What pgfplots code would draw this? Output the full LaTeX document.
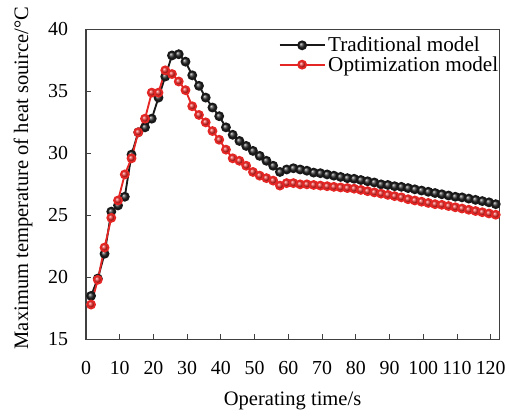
\documentclass[border=0pt]{standalone}
\usepackage{fontspec}
\setmainfont{Liberation Serif}
\usepackage{pgfplots}
\pgfplotsset{compat=1.18}
\definecolor{tblack}{RGB}{25,25,25}
\definecolor{tred}{RGB}{228,38,36}

\pgfplotstableread{
t    v
1.5  18.5
3.5  19.9
5.5  21.9
7.5  25.3
9.5  25.8
11.5 26.5
13.5 29.9
15.5 31.7
17.5 32.1
19.5 32.8
21.5 34.5
23.5 36.2
25.5 37.9
27.5 38.0
29.5 37.4
31.5 36.3
33.5 35.45
35.5 34.5
37.5 33.7
39.5 33.0
41.5 32.1
43.5 31.5
45.5 31.0
47.5 30.6
49.5 30.2
51.5 29.8
53.5 29.4
55.5 29.0
57.5 28.5
59.5 28.7
61.5 28.8
63.5 28.7
65.5 28.6
67.5 28.45
69.5 28.4
71.5 28.3
73.5 28.2
75.5 28.1
77.5 28.0
79.5 27.95
81.5 27.85
83.5 27.75
85.5 27.65
87.5 27.5
89.5 27.45
91.5 27.35
93.5 27.3
95.5 27.2
97.5 27.1
99.5 27.0
101.5 26.9
103.5 26.8
105.5 26.7
107.5 26.6
109.5 26.5
111.5 26.45
113.5 26.35
115.5 26.25
117.5 26.15
119.5 26.05
121.5 25.9
}\traditional

\pgfplotstableread{
t    v
1.5  17.8
3.5  19.8
5.5  22.4
7.5  24.8
9.5  26.2
11.5 28.3
13.5 29.6
15.5 31.7
17.5 32.8
19.5 34.9
21.5 34.9
23.5 36.7
25.5 36.4
27.5 35.8
29.5 35.1
31.5 33.8
33.5 33.1
35.5 32.5
37.5 31.8
39.5 31.1
41.5 30.3
43.5 29.6
45.5 29.4
47.5 29.0
49.5 28.5
51.5 28.2
53.5 28.0
55.5 27.8
57.5 27.4
59.5 27.6
61.5 27.6
63.5 27.5
65.5 27.5
67.5 27.45
69.5 27.4
71.5 27.35
73.5 27.3
75.5 27.25
77.5 27.2
79.5 27.15
81.5 27.05
83.5 26.95
85.5 26.85
87.5 26.75
89.5 26.65
91.5 26.55
93.5 26.45
95.5 26.3
97.5 26.2
99.5 26.1
101.5 26.0
103.5 25.9
105.5 25.85
107.5 25.75
109.5 25.65
111.5 25.55
113.5 25.45
115.5 25.35
117.5 25.25
119.5 25.15
121.5 25.05
}\optimized

\begin{document}
\begin{tikzpicture}
  \begin{axis}[
    scale only axis,
    width=312pt, height=234pt,
    xmin=0, xmax=122.5, ymin=15, ymax=40,
    xtick={0,10,...,120}, ytick={15,20,...,40},
    tick align=inside, xtick pos=left, ytick pos=left,
    major tick length=4pt,
    axis line style={line width=0.8pt, black!75},
    tick style={line width=0.7pt, black!75},
    /pgf/number format/assume math mode=true,
    tick label style={font=\fontsize{15}{17}\selectfont},
    xticklabel style={yshift=-13pt},
    yticklabel style={xshift=-10pt},
    label style={font=\fontsize{15.5}{17}\selectfont},
    xlabel={Operating time/s},
    ylabel={Maximum temperature of heat souirce/°C},
    xlabel style={yshift=-6pt},
    ylabel style={at={(ticklabel cs:0.52)}, yshift=5pt},
    legend style={draw=none, fill=none, at={(1.005,0.985)}, anchor=north east,
      font=\fontsize{16}{17}\selectfont, inner sep=0pt, row sep=-2pt},
    legend cell align=left,
    legend image code/.code={\draw[#1, mark repeat=2, mark phase=2] plot coordinates {(0pt,0pt) (17pt,0pt) (34pt,0pt)};},
  ]
    \addplot[color=tblack, line width=1.4pt, mark=ball, mark size=3pt,
      mark options={ball color=black!80}] table[x=t, y=v] {\traditional};
    \addlegendentry{Traditional model}
    \addplot[color=tred, line width=1.4pt, mark=ball, mark size=3pt,
      mark options={ball color=tred}] table[x=t, y=v] {\optimized};
    \addlegendentry{Optimization model}
  \end{axis}
  \path ([shift={(-7pt,-2pt)}]current bounding box.south west)
        ([shift={(0pt,2pt)}]current bounding box.north east);
\end{tikzpicture}
\end{document}
